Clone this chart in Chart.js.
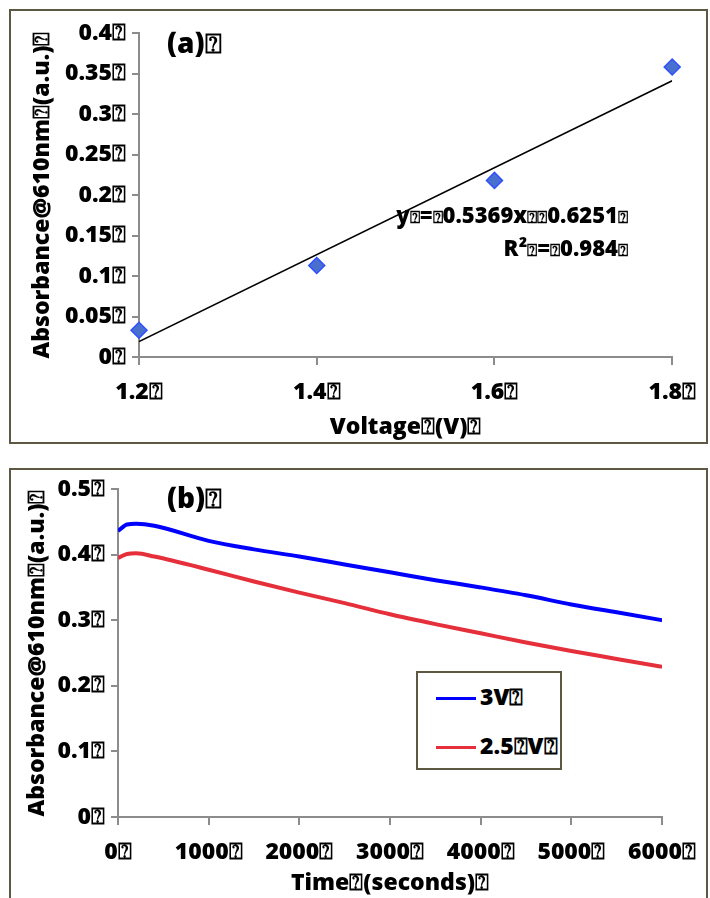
<!DOCTYPE html>
<html lang="en">
<head>
<meta charset="UTF-8">
<title>Absorbance @610nm</title>
<script src="https://cdn.jsdelivr.net/npm/chart.js"></script>
<style>
  body { margin:0; width:710px; height:898px; background:#fff; position:relative; overflow:hidden;
         font-family: 'Open Sans', 'DejaVu Sans', sans-serif; font-weight:800; color:#000; }
  .frame { position:absolute; box-sizing:border-box; border:2px solid #5c5843; background:#fff; }
  .wrap { position:absolute; left:0; width:710px; }
  .note { position:absolute; white-space:nowrap; font-weight:800; }
  .note .m { font-size:17px; }
  .legend { position:absolute; box-sizing:border-box; border:2px solid #5c5843; background:#fff; }
  .legend .row { position:absolute; left:18px; font-size:23px; white-space:nowrap; line-height:28px; }
  .legend .sw { display:inline-block; width:40px; height:3px; vertical-align:middle; margin-right:4px; }
</style>
</head>
<body>

<div class="frame" style="left:9px; top:9px; width:699px; height:435px;"></div>
<div class="frame" style="left:9px; top:468px; width:699px; height:460px;"></div>

<div class="wrap" style="top:0; height:450px;"><canvas id="chartA"></canvas></div>
<div class="wrap" style="top:460px; height:438px;"><canvas id="chartB"></canvas></div>

<div class="note" style="left:167px; top:23px; font-size:28px;">(a)⍰</div>
<div class="note" style="right:82px; top:199px; font-size:22px; line-height:31px; text-align:right;">
  y<span class="m">⍰</span>=<span class="m">⍰</span>0.5369x<span class="m">⍰⍰</span>0.6251<span class="m">⍰</span><br>R²<span class="m">⍰</span>=<span class="m">⍰</span>0.984<span class="m">⍰</span>
</div>
<div class="note" style="left:167px; top:478px; font-size:28px;">(b)⍰</div>

<div class="legend" style="left:416px; top:671px; width:146px; height:99px;">
  <div class="row" style="top:9px;"><span class="sw" id="swBlue"></span>3V⍰</div>
  <div class="row" style="top:58px;"><span class="sw" id="swRed"></span>2.5⍰V⍰</div>
</div>

<script>
// ---- (a) absorbance vs voltage ----
const voltage = [1.2, 1.4, 1.6, 1.8];
const absorbanceA = [0.033, 0.113, 0.218, 0.358];
const trendX = [1.2, 1.8];
const trendY = [0.019, 0.341];

// ---- (b) absorbance vs time ----
const timeSec = [0, 100, 200, 400, 1000, 1500, 2000, 2500, 3000, 3500, 4000, 4500, 5000, 5500, 6000];
const abs3V  = [0.436, 0.446, 0.447, 0.444, 0.421, 0.408, 0.397, 0.385, 0.373, 0.361, 0.350, 0.338, 0.324, 0.312, 0.300];
const abs25V = [0.395, 0.401, 0.402, 0.397, 0.377, 0.359, 0.342, 0.326, 0.309, 0.294, 0.280, 0.266, 0.253, 0.241, 0.229];
const seriesNames = ['3V⍰', '2.5⍰V⍰'];
const seriesColors = ['#0000ff', '#e5303b'];

const MARK = '⍰';
const FONT = "'Open Sans', 'DejaVu Sans', sans-serif";
const AXIS_GREY = '#8c8c8c';
const labelFont = { family: FONT, size: 23, weight: '800' };

document.getElementById('swBlue').style.background = seriesColors[0];
document.getElementById('swRed').style.background = seriesColors[1];

function pairs(xs, ys) {
  return xs.map((x, i) => ({ x: x, y: ys[i] }));
}

function fmt(v) { return (+v.toFixed(2)) + MARK; }

function axis(opts) {
  return {
    type: 'linear',
    min: opts.min, max: opts.max,
    border: { display: true, color: AXIS_GREY, width: 2 },
    grid: { drawOnChartArea: false, drawTicks: true, tickLength: opts.tick, color: AXIS_GREY, lineWidth: 2 },
    ticks: { stepSize: opts.step, padding: opts.pad, color: '#000', font: labelFont, callback: opts.cb },
    title: { display: true, text: opts.title, padding: opts.titlePad, color: '#000', font: labelFont },
    afterFit: opts.fit
  };
}

// chart (a)
new Chart(document.getElementById('chartA'), {
  type: 'scatter',
  data: {
    datasets: [
      {
        label: 'Absorbance',
        data: pairs(voltage, absorbanceA),
        pointStyle: 'rectRot',
        pointRadius: 8,
        backgroundColor: '#4a70cf',
        borderColor: '#3050ff',
        borderWidth: 1.5,
        clip: false
      },
      {
        label: 'Linear fit',
        data: pairs(trendX, trendY),
        showLine: true,
        pointRadius: 0,
        borderColor: '#000',
        borderWidth: 1.6
      }
    ]
  },
  options: {
    responsive: true,
    maintainAspectRatio: false,
    animation: false,
    layout: { padding: { left: 20, right: 33, top: 33, bottom: 9 } },
    plugins: { legend: { display: false }, tooltip: { enabled: false } },
    scales: {
      x: axis({ min: 1.2, max: 1.8, step: 0.2, tick: 8, pad: 14, cb: fmt,
                title: 'Voltage' + MARK + '(V)' + MARK, titlePad: { top: 0, bottom: 0 },
                fit: s => { s.height = 84; } }),
      y: axis({ min: 0, max: 0.4, step: 0.05, tick: 7, pad: 6, cb: fmt,
                title: 'Absorbance@610nm' + MARK + '(a.u.)' + MARK, titlePad: { top: 9, bottom: 0 },
                fit: s => { s.width = 119; } })
    }
  }
});

// chart (b)
new Chart(document.getElementById('chartB'), {
  type: 'line',
  data: {
    datasets: [
      {
        label: seriesNames[0],
        data: pairs(timeSec, abs3V),
        borderColor: seriesColors[0],
        backgroundColor: seriesColors[0],
        borderWidth: 4,
        pointRadius: 0,
        cubicInterpolationMode: 'monotone'
      },
      {
        label: seriesNames[1],
        data: pairs(timeSec, abs25V),
        borderColor: seriesColors[1],
        backgroundColor: seriesColors[1],
        borderWidth: 4,
        pointRadius: 0,
        cubicInterpolationMode: 'monotone'
      }
    ]
  },
  options: {
    responsive: true,
    maintainAspectRatio: false,
    animation: false,
    layout: { padding: { left: 20, right: 45, top: 29, bottom: 1 } },
    plugins: { legend: { display: false }, tooltip: { enabled: false } },
    scales: {
      x: axis({ min: 0, max: 6000, step: 1000, tick: 8, pad: 14, cb: v => v + MARK,
                title: 'Time' + MARK + '(seconds)' + MARK, titlePad: { top: 0, bottom: 0 },
                fit: s => { s.height = 80; } }),
      y: axis({ min: 0, max: 0.5, step: 0.1, tick: 7, pad: 6, cb: fmt,
                title: 'Absorbance@610nm' + MARK + '(a.u.)' + MARK, titlePad: { top: 4, bottom: 0 },
                fit: s => { s.width = 98; } })
    }
  }
});
</script>
</body>
</html>
